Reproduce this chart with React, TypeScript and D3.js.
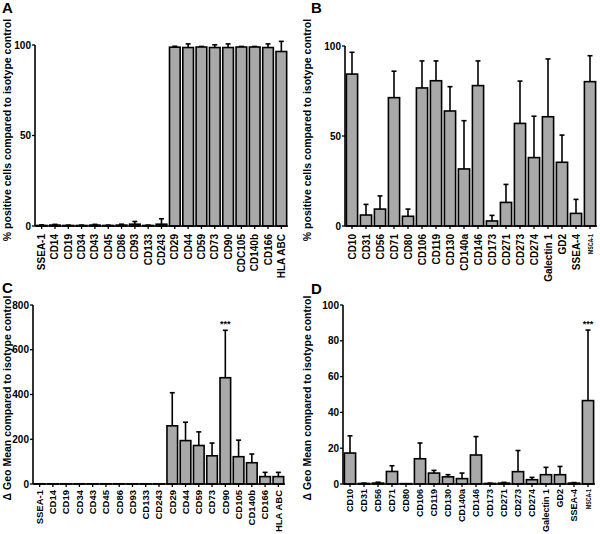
import React from "react";
import * as d3 from "d3";

const catsAC = ["SSEA-1","CD14","CD19","CD34","CD43","CD45","CD86","CD93","CD133","CD243","CD29","CD44","CD59","CD73","CD90","CDC105","CD140b","CD166","HLA ABC"];
const catsC = ["SSEA-1","CD14","CD19","CD34","CD43","CD45","CD86","CD93","CD133","CD243","CD29","CD44","CD59","CD73","CD90","CD105","CD140b","CD166","HLA ABC"];
const catsBD = ["CD10","CD31","CD56","CD71","CD80","CD106","CD119","CD130","CD140a","CD146","CD173","CD271","CD273","CD274","Galectin 1","GD2","SSEA-4","MSCA-1"];

const valA = [0.3,0.5,0.3,0.3,0.5,0.3,0.5,1.0,0.3,1.0,98.8,98.6,98.9,98.6,98.6,98.9,98.9,98.6,96.4];
const errA = [0.3,0.4,0.2,0.2,0.4,0.2,0.5,1.5,0.2,3.0,0.5,2.0,0.3,1.5,2.0,0.3,0.3,2.0,5.6];

const valB = [84.4,6.1,9.4,71.3,5.4,76.7,80.7,63.9,31.7,78.0,2.8,13.1,57.0,38.0,60.7,35.4,7.0,80.2];
const errB = [12.1,5.9,7.3,14.7,4.0,15.0,11.0,13.5,26.8,13.7,3.1,10.0,23.5,23.0,32.1,15.1,7.8,14.4];

const valC = [1,1,1,1,1,1,1,1,1,1,260,194,172,126,475,122,95,33,33];
const errC = [0,0,0,0,0,0,0,0,0,0,148,82,61,57,212,74,39,19,19];

const valD = [17.3,0.3,0.5,7.0,0.2,14.1,6.1,4.0,3.0,16.2,0.3,0.5,6.9,2.4,5.2,5.2,0.5,46.6];
const errD = [9.6,0.2,0.5,3.2,0,8.8,1.5,1.2,3.1,10.3,0.2,0.4,11.8,1.3,4.1,4.6,0.3,39.4];

const ticksAB = [0, 50, 100];
const ticksC = [0, 200, 400, 600, 800];
const ticksD = [0, 20, 40, 60, 80, 100];

const FONT = "'Liberation Sans', Arial, Helvetica, sans-serif";

type PanelProps = {
  letter: string; lx: number; ly: number;
  x0: number; x1: number; yZero: number; yTop: number; max: number;
  ticks: number[]; cats: string[]; vals: number[]; errs: number[];
  stars?: number; ylabel: string; ylabelX: number; ylabelY: number;
  labelOffset: number; catSize: number;
};

function Panel(p: PanelProps) {
  const x = d3.scaleBand<string>().domain(p.cats).range([p.x0, p.x1]).paddingInner(0.2).paddingOuter(0.1);
  const y = d3.scaleLinear().domain([0, p.max]).range([p.yZero, p.yTop]);
  const bw = x.bandwidth();
  return (
    <g>
      <text x={p.lx} y={p.ly} fontFamily={FONT} fontWeight="bold" fontSize={15}>{p.letter}</text>
      <text transform={`translate(${p.ylabelX},${p.ylabelY}) rotate(-90)`} textAnchor="middle" fontFamily={FONT} fontWeight="bold" fontSize={10.5}>{p.ylabel}</text>
      {p.cats.map((c, i) => {
        const cx = (x(c) as number) + bw / 2;
        const top = y(p.vals[i]);
        const et = y(p.vals[i] + p.errs[i]);
        return (
          <g key={c}>
            {p.errs[i] > 0 && (
              <g stroke="#000" strokeWidth={1.6}>
                <line x1={cx} x2={cx} y1={top} y2={et} />
                <line x1={cx - 2.5} x2={cx + 2.5} y1={et} y2={et} />
              </g>
            )}
            <rect x={x(c)} y={top} width={bw} height={Math.max(0, p.yZero - top)} fill="#a9a9a9" stroke="#000" strokeWidth={1.6} />
          </g>
        );
      })}
      {p.stars !== undefined && (
        <text x={(x(p.cats[p.stars]) as number) + bw / 2} y={y(p.vals[p.stars] + p.errs[p.stars]) - 3.5} textAnchor="middle" fontFamily={FONT} fontWeight="bold" fontSize={9}>***</text>
      )}
      <line x1={p.x0} x2={p.x0} y1={p.yTop} y2={p.yZero} stroke="#000" strokeWidth={1.6} />
      <line x1={p.x0} x2={p.x1} y1={p.yZero} y2={p.yZero} stroke="#000" strokeWidth={1.6} />
      {p.ticks.map(t => (
        <g key={t}>
          <line x1={p.x0 - 3} x2={p.x0} y1={y(t)} y2={y(t)} stroke="#000" strokeWidth={1.3} />
          <text x={p.x0 - 4} y={y(t)} dy="0.35em" textAnchor="end" fontFamily={FONT} fontWeight="bold" fontSize={10}>{t}</text>
        </g>
      ))}
      {p.cats.map(c => {
        const cx = (x(c) as number) + bw / 2;
        const small = c === "MSCA-1";
        return (
          <g key={"l" + c}>
            <line x1={cx} x2={cx} y1={p.yZero} y2={p.yZero + 3} stroke="#000" strokeWidth={1.3} />
            <text transform={`translate(${cx},${p.yZero + p.labelOffset}) rotate(-90)`} dy="0.35em" textAnchor="end" fontFamily={FONT} fontWeight="bold" fontSize={small ? 8 : p.catSize}
              {...(small ? { textLength: 20, lengthAdjust: "spacingAndGlyphs" } : {})}>{c}</text>
          </g>
        );
      })}
    </g>
  );
}

export default function App() {
  const pctLabel = "% positive cells compared to isotype control";
  const geoLabel = "\u0394 Geo Mean compared to isotype control";
  return (
    <svg width={600} height={534} style={{ position: "absolute", left: 0, top: 0, background: "#fff" }}>
      <Panel letter="A" lx={2} ly={13} x0={35} x1={288} yZero={226} yTop={45} max={100}
        ticks={ticksAB} cats={catsAC} vals={valA} errs={errA} ylabel={pctLabel} ylabelX={11} ylabelY={130} labelOffset={8} catSize={10} />
      <Panel letter="B" lx={311} ly={13} x0={345} x1={597} yZero={226} yTop={46} max={100}
        ticks={ticksAB} cats={catsBD} vals={valB} errs={errB} ylabel={pctLabel} ylabelX={311} ylabelY={130} labelOffset={8} catSize={10} />
      <Panel letter="C" lx={2} ly={293} x0={33} x1={285} yZero={484} yTop={305} max={800}
        ticks={ticksC} cats={catsC} vals={valC} errs={errC} stars={14} ylabel={geoLabel} ylabelX={11} ylabelY={398} labelOffset={6} catSize={9.5} />
      <Panel letter="D" lx={311} ly={294} x0={343} x1={595} yZero={484} yTop={305} max={100}
        ticks={ticksD} cats={catsBD} vals={valD} errs={errD} stars={17} ylabel={geoLabel} ylabelX={311} ylabelY={398} labelOffset={5} catSize={9} />
    </svg>
  );
}
